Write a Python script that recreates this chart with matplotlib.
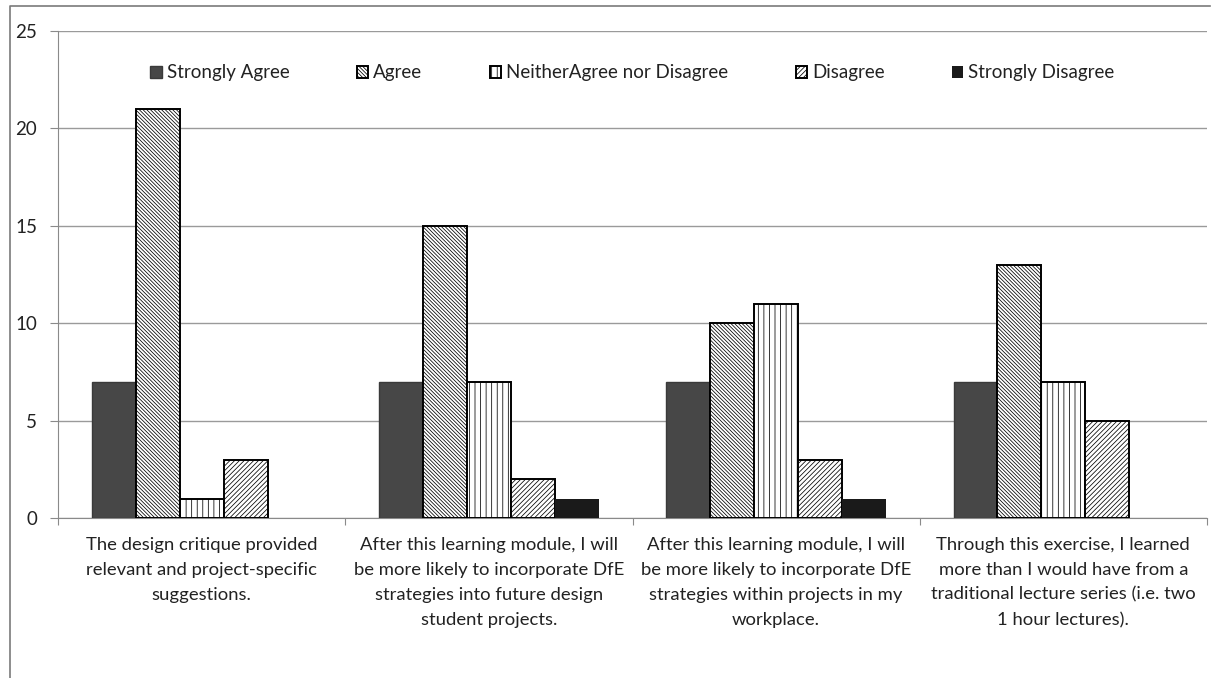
import numpy as np
import matplotlib
matplotlib.use('Agg')
import matplotlib.pyplot as plt
from matplotlib.lines import Line2D

# survey responses per statement
statements = ['The design critique provided\nrelevant and project-specific\nsuggestions.',
              'After this learning module, I will\nbe more likely to incorporate DfE\nstrategies into future design\nstudent projects.',
              'After this learning module, I will\nbe more likely to incorporate DfE\nstrategies within projects in my\nworkplace.',
              'Through this exercise, I learned\nmore than I would have from a\ntraditional lecture series (i.e. two\n1 hour lectures).']
responses = ['Strongly Agree', 'Agree', 'NeitherAgree nor Disagree', 'Disagree', 'Strongly Disagree']
strongly_agree    = [7, 7, 7, 7]
agree             = [21, 15, 10, 13]
neither           = [1, 7, 11, 7]
disagree          = [3, 2, 3, 5]
strongly_disagree = [0, 1, 1, 0]
counts = [strongly_agree, agree, neither, disagree, strongly_disagree]

# fill / hatch per response
faces   = ['#474747', 'white', 'white', 'white', '#1a1a1a']
hatches = [None, '\\' * 9, '|' * 3, '/' * 7, None]
edges   = ['#3a3a3a', 'black', 'black', 'black', 'none']
lws     = [1.0, 1.4, 1.4, 1.4, 0]

plt.rcParams['font.family'] = ['Lato', 'DejaVu Sans']
plt.rcParams['hatch.linewidth'] = 0.55

fig = plt.figure(figsize=(12.14, 6.78), dpi=100)
ax = fig.add_axes([58/1214, 1-518/678, (1207-58)/1214, (518-31)/678])

x = np.arange(len(statements))
w = 0.153
for i in range(len(responses)):
    ax.bar(x + (i-2)*w, counts[i], w, color=faces[i], hatch=hatches[i],
           edgecolor=edges[i], linewidth=lws[i], label=responses[i], zorder=3)

ax.set_xlim(-0.5, 3.5)
ax.set_ylim(0, 25)
ax.set_yticks(range(0, 26, 5))
ax.yaxis.grid(True, color='#9a9a9a', linewidth=1.0, zorder=0)
ax.tick_params(axis='y', length=6, color='#8a8a8a', labelsize=13.5, labelcolor='#222222', pad=9)

# category labels between boundary ticks
ax.set_xticks(np.arange(-0.5, 4, 1))
ax.set_xticklabels([])
ax.tick_params(axis='x', length=5, color='#8a8a8a')
for i, s in enumerate(statements):
    ax.text(x[i], -0.95, s, ha='center', va='top', fontsize=13.3, color='#222222',
            linespacing=1.7, transform=ax.transData)

for side in ['top', 'right']:
    ax.spines[side].set_visible(False)
ax.spines['left'].set_color('#8a8a8a')
ax.spines['bottom'].set_color('#8a8a8a')

leg = ax.legend(loc='center', bbox_to_anchor=(0.5, 0.914), ncol=5, frameon=False,
                fontsize=13.5, handlelength=0.6, handleheight=0.6, handletextpad=0.27,
                columnspacing=3.6, labelcolor='#222222')

# chart border
fig.add_artist(Line2D([10/1214, 10/1214, 1210/1214], [0, 1-6/678, 1-6/678],
                      transform=fig.transFigure, color='#7a7a7a', linewidth=1.2))

fig.savefig('out.png', dpi=100)
